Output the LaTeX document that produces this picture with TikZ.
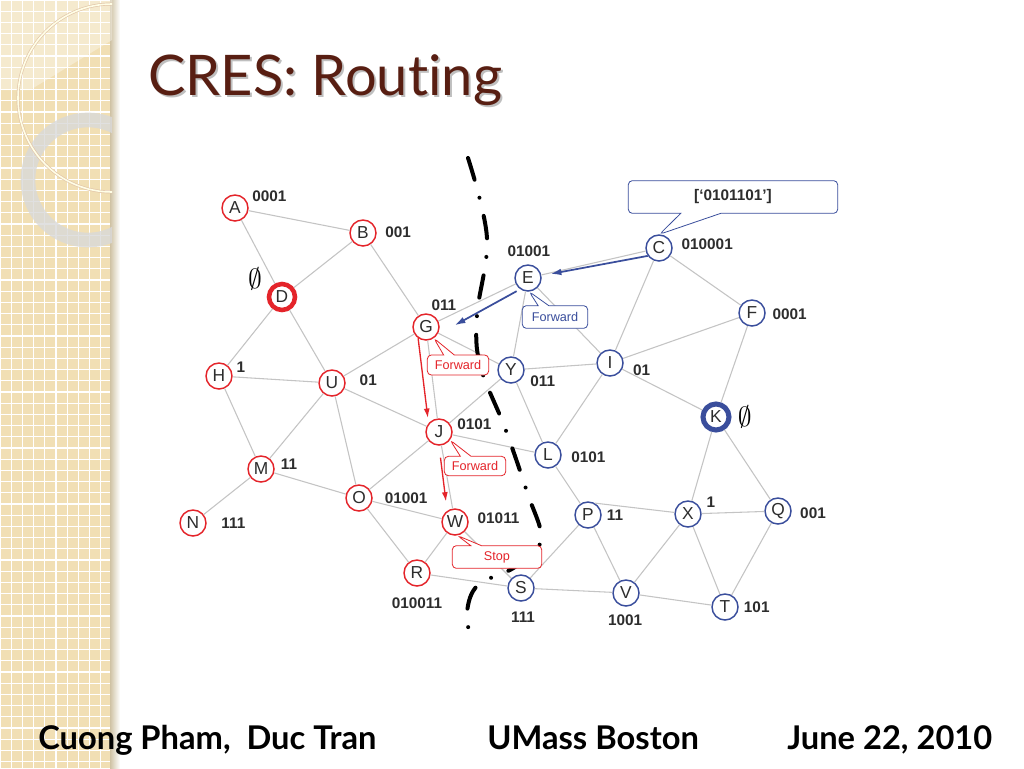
\documentclass[tikz,border=0pt]{standalone}
\usepackage{fontspec}
\setmainfont{Liberation Sans}
\newfontfamily\gillfont[Ligatures=NoCommon]{Lato}
\usepackage{tikz}
\usetikzlibrary{shapes, shapes.callouts, arrows.meta, positioning}
\definecolor{cresred}{RGB}{228,36,42}
\definecolor{cresblue}{RGB}{58,78,156}
\definecolor{linkgray}{RGB}{196,196,196}
\definecolor{titlebrown}{RGB}{88,30,18}
\definecolor{panelbeige}{RGB}{241,223,180}
\definecolor{numgray}{RGB}{45,45,45}

\begin{document}
\begin{tikzpicture}
  [
    x=0.75pt, y=-0.75pt,
    RedNode/.style={circle, draw=cresred, fill=white, line width=1.1pt, minimum size=19.5pt, inner sep=0pt, text=numgray, font=\fontsize{13}{13}\selectfont},
    BlueNode/.style={RedNode, draw=cresblue},
    Num/.style={anchor=center, inner sep=0pt, text=numgray, font=\fontsize{11.5}{12}\selectfont\bfseries},
    EmptySet/.style={anchor=center, inner sep=0pt, font=\fontsize{22}{22}\selectfont},
    Link/.style={draw=linkgray, line width=0.8pt},
    RedArrow/.style={draw=cresred, line width=1pt, -{Latex[length=7pt, width=4.5pt]}},
    BlueArrow/.style={draw=cresblue, line width=1.3pt, -{Latex[length=8pt, width=5pt]}},
    RedTag/.style={rectangle callout, rounded corners=3pt, draw=cresred, fill=white, line width=0.6pt, text=cresred, font=\fontsize{9.5}{9.5}\selectfont, inner sep=0pt, callout pointer width=8pt},
    BlueTag/.style={RedTag, draw=cresblue, text=cresblue},
    Boundary/.style={line width=3pt, line cap=round, dash pattern=on 17pt off 14pt on 0pt off 14pt},
    Title/.style={font=\gillfont\fontsize{42}{42}\selectfont, text=titlebrown, inner sep=0pt},
    Foot/.style={font=\gillfont\bfseries\fontsize{24.5}{24.5}\selectfont, inner sep=0pt}
  ]
  \useasboundingbox (0,0) rectangle (1024,768);
  % Slide background
  \fill[white] (0,0) rectangle (1024,768);
  \fill[panelbeige] (0,0) rectangle (112,768);
  \draw[white, line width=0.9pt, xstep=8.4pt, ystep=8.4pt] (0,0) grid (112,768);
  \shade[left color=panelbeige!70!gray, right color=white] (110,0) rectangle (120,768);
  \begin{scope}
    \clip (0,0) rectangle (112,768);
    \fill[white, opacity=0.35] (0,0) -- (112,0) -- (112,40) -- (30,90) -- (0,90) -- cycle;
    \draw[black!15, opacity=0.8, line width=11pt] (88,180) circle[radius=60];
    \draw[brown!45, line width=2.2pt] (112,98) circle[radius=94];
    \draw[white!90!yellow, line width=1.2pt] (112,98) circle[radius=94];
  \end{scope}

  % Title
  \node[Title, text=black!25, anchor=base west] (titleshadow) at (150,97) {CRES: Routing};
  \node[Title, anchor=base west] (title) at (148,95) {CRES: Routing};

  % Nodes
  \node[RedNode, label={[Num, label distance=17pt]19:0001}] (A) at (235,208) {A};
  \node[RedNode, label={[Num, label distance=16pt]2:001}] (B) at (363,233) {B};
  \node[RedNode, line width=3.4pt, label={[EmptySet, label distance=13pt]146:$\emptyset$}] (D) at (282,297) {D};
  \node[RedNode, label={[Num, label distance=7.5pt]23:1}] (H) at (219,376) {H};
  \node[RedNode, label={[Num, label distance=17pt]5:01}] (U) at (332,383) {U};
  \node[RedNode, label={[Num, label distance=11pt]10:11}] (M) at (261,469) {M};
  \node[RedNode, label={[Num, label distance=20pt]0:111}] (N) at (193,523) {N};
  \node[RedNode, label={[Num, label distance=25pt]0:01001}] (O) at (359,498) {O};
  \node[RedNode, label={[Num, label distance=11pt]51:011}] (G) at (426,327) {G};
  \node[RedNode, label={[Num, label distance=17pt]13:0101}] (J) at (439,432) {J};
  \node[RedNode, label={[Num, label distance=22.5pt]5:01011}] (W) at (455,522) {W};
  \node[RedNode, label={[Num, label distance=12pt]-90:010011}] (R) at (417,573) {R};
  \node[BlueNode, label={[Num, label distance=10pt]88:01001}] (E) at (528,278) {E};
  \node[BlueNode, label={[Num, label distance=26pt]5:010001}] (C) at (659,248) {C};
  \node[BlueNode, label={[Num, label distance=18pt]-2:0001}] (F) at (752,313) {F};
  \node[BlueNode, label={[Num, label distance=15pt]-20:011}] (Y) at (511,370) {Y};
  \node[BlueNode, label={[Num, label distance=14pt]-13:01}] (I) at (610,363) {I};
  \node[BlueNode, line width=3.8pt, label={[EmptySet, label distance=10pt]0:$\emptyset$}] (K) at (716,417) {K};
  \node[BlueNode, label={[Num, label distance=20pt]-3:0101}] (L) at (548,455) {L};
  \node[BlueNode, label={[Num, label distance=10pt]0:11}] (P) at (588,515) {P};
  \node[BlueNode, label={[Num, label distance=9pt]27:1}] (X) at (688,514) {X};
  \node[BlueNode, label={[Num, label distance=16pt]-3:001}] (Q) at (778,511) {Q};
  \node[BlueNode, label={[Num, label distance=12pt]-86:111}] (S) at (521,588) {S};
  \node[BlueNode, label={[Num, label distance=10pt]-92:1001}] (V) at (626,593) {V};
  \node[BlueNode, label={[Num, label distance=13.5pt]0:101}] (T) at (725,607) {T};

  % Lines
  \path [Link] (A) -- (B);
  \path [Link] (A) -- (D);
  \path [Link] (B) -- (D);
  \path [Link] (B) -- (G);
  \path [Link] (D) -- (H);
  \path [Link] (D) -- (U);
  \path [Link] (H) -- (U);
  \path [Link] (H) -- (M);
  \path [Link] (U) -- (M);
  \path [Link] (U) -- (O);
  \path [Link] (U) -- (J);
  \path [Link] (U) -- (G);
  \path [Link] (M) -- (N);
  \path [Link] (M) -- (O);
  \path [Link] (O) -- (J);
  \path [Link] (O) -- (W);
  \path [Link] (O) -- (R);
  \path [Link] (R) -- (W);
  \path [Link] (R) -- (S);
  \path [Link] (G) -- (E);
  \path [Link] (G) -- (J);
  \path [Link] (G) -- (Y);
  \path [Link] (J) -- (Y);
  \path [Link] (J) -- (L);
  \path [Link] (J) -- (W);
  \path [Link] (W) -- (S);
  \path [Link] (E) -- (C);
  \path [Link] (E) -- (Y);
  \path [Link] (E) -- (I);
  \path [Link] (C) -- (I);
  \path [Link] (C) -- (F);
  \path [Link] (F) -- (I);
  \path [Link] (F) -- (K);
  \path [Link] (I) -- (Y);
  \path [Link] (I) -- (K);
  \path [Link] (I) -- (L);
  \path [Link] (L) -- (Y);
  \path [Link] (L) -- (P);
  \path [Link] (P.60) -- (X);
  \path [Link] (P) -- (V);
  \path [Link] (P) -- (S);
  \path [Link] (S) -- (V);
  \path [Link] (V) -- (X);
  \path [Link] (V) -- (T);
  \path [Link] (X) -- (K);
  \path [Link] (X) -- (Q);
  \path [Link] (X) -- (T);
  \path [Link] (K) -- (Q);
  \path [Link] (Q) -- (T);

  % Partition boundary
  \draw[Boundary] plot[smooth, tension=0.6] coordinates {(468,158) (487,238) (477,315) (480,365) (505,428) (527,492) (541,540) (515,567) (478,585) (467,612) (471,640)};

  % Callouts
  \node[BlueTag, minimum width=157pt, minimum height=24.5pt, callout pointer width=30pt, font=\fontsize{11.5}{12}\selectfont\bfseries, text=numgray, callout absolute pointer={(C.88)}] (tagC) at (733,197) {[‘0101101’]};
  \node[BlueTag, minimum width=49pt, minimum height=17pt, callout absolute pointer={(E.-85)}] (tagE) at (555,317) {Forward};
  \node[RedTag, minimum width=46pt, minimum height=15pt, callout absolute pointer={(G.-55)}] (tagG) at (458,365) {Forward};
  \node[RedTag, minimum width=46pt, minimum height=14.5pt, callout absolute pointer={(J.-36)}] (tagJ) at (475,466) {Forward};
  \node[RedTag, minimum width=67pt, minimum height=17pt, callout absolute pointer={(W.-80)}] (tagW) at (497,557) {Stop};

  % Arrows
  \path [BlueArrow, shorten >=7pt] (C.215) -- (E.10);
  \path [BlueArrow, shorten <=3pt, shorten >=15pt] (E.235) -- (G.-35);
  \path [RedArrow, shorten >=4pt] (G.235) -- (J.140);
  \path [RedArrow, shorten <=9pt, shorten >=7pt] (J.-90) -- (W.125);

  % Footer
  \node[Foot, anchor=base west] (authors) at (38,749) {Cuong Pham,\ \ Duc Tran};
  \node[Foot, anchor=base west] (school) at (487,749) {UMass Boston};
  \node[Foot, anchor=base west] (date) at (787,749) {June 22, 2010};
\end{tikzpicture}
\end{document}
